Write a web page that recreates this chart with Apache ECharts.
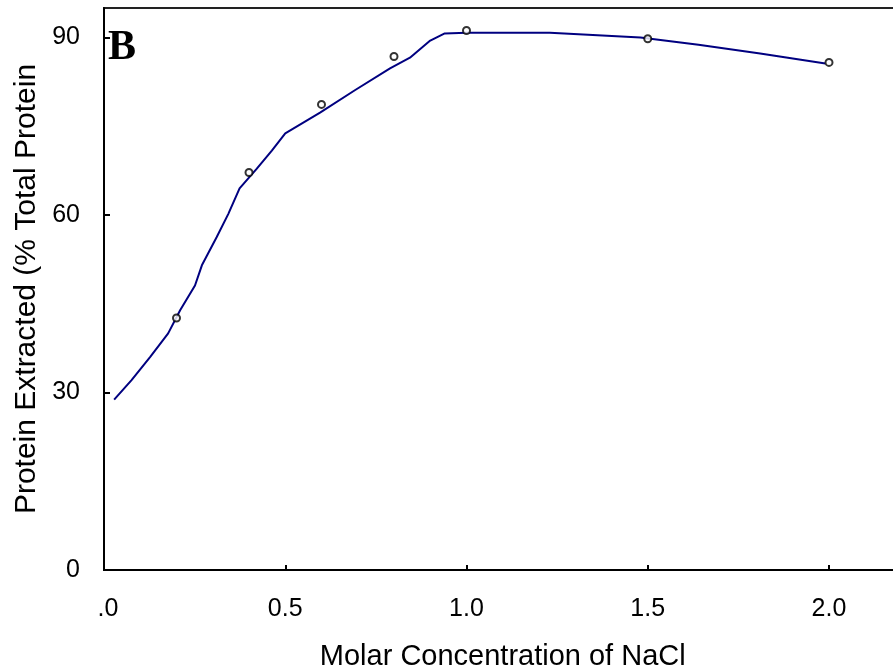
<!DOCTYPE html>
<html>
<head>
<meta charset="utf-8">
<script src="https://cdn.jsdelivr.net/npm/echarts@6/dist/echarts.min.js"></script>
<style>html,body{margin:0;padding:0;background:#fff;overflow:hidden}#c{width:893px;height:670px}</style>
</head>
<body>
<div id="c"></div>
<script>
// Measured points (open circles)
var pointX = [0.2, 0.4, 0.6, 0.8, 1.0, 1.5, 2.0];
var pointY = [42.6, 67.2, 78.7, 86.8, 91.2, 89.8, 85.8];
// Fitted curve
var curveX = [0.028, 0.076, 0.127, 0.177, 0.21, 0.251, 0.27, 0.311, 0.343, 0.374, 0.421, 0.463, 0.5, 0.596, 0.692, 0.789, 0.844, 0.9, 0.94, 1.0, 1.23, 1.48, 1.64, 1.81, 1.99];
var curveY = [28.8, 32.1, 36.0, 40.0, 43.9, 48.1, 51.5, 56.3, 60.2, 64.5, 67.8, 70.9, 73.8, 77.3, 81.1, 84.8, 86.6, 89.5, 90.7, 90.8, 90.8, 90.0, 88.8, 87.3, 85.6];
// Tick values and labels
var xTicks = [0, 0.5, 1.0, 1.5, 2.0];
var xTickLabels = ['.0', '0.5', '1.0', '1.5', '2.0'];
var yTicks = [0, 30, 60, 90];
var yTickLabels = ['0', '30', '60', '90'];
var xName = 'Molar Concentration of NaCl';
var yName = 'Protein Extracted (% Total Protein';
var panelLabel = 'B';

var chart = echarts.init(document.getElementById('c'));
var FONT = '"Liberation Sans", Arial, sans-serif';
chart.setOption({
  animation: false,
  backgroundColor: '#fff',
  title: {
    text: panelLabel, left: 103, top: 22,
    textStyle: { fontFamily: '"Liberation Serif", "Times New Roman", serif', fontWeight: 'bold', fontSize: 42, color: '#000' }
  },
  grid: { left: 104, top: 8, width: 797.5, bottom: 100, outerBoundsMode: 'none', containLabel: false, show: true, borderColor: '#222', borderWidth: 2, backgroundColor: 'transparent' },
  xAxis: {
    type: 'value', min: 0, max: 2.2,
    name: xName, nameLocation: 'middle', nameGap: 72,
    nameTextStyle: { fontFamily: FONT, fontSize: 29, color: '#000' },
    axisLine: { show: true, lineStyle: { color: '#000', width: 2 } },
    axisTick: { show: true, inside: true, length: 5, lineStyle: { color: '#000', width: 2 }, customValues: xTicks },
    axisLabel: {
      customValues: xTicks, margin: 27, fontFamily: FONT, fontSize: 25, color: '#000',
      formatter: function (v) { var i = xTicks.indexOf(v); return i === 0 ? '{s|' + xTickLabels[i] + '}' : (i >= 0 ? xTickLabels[i] : ''); },
      rich: { s: { fontFamily: FONT, fontSize: 25, color: '#000', padding: [0, 0, 0, 8] } }
    },
    splitLine: { show: false }
  },
  yAxis: {
    type: 'value', min: 0, max: 95,
    name: yName, nameLocation: 'middle', nameGap: 57,
    nameTextStyle: { fontFamily: FONT, fontSize: 30, color: '#000' },
    axisLine: { show: true, lineStyle: { color: '#000', width: 2 } },
    axisTick: { show: true, inside: true, length: 6, lineStyle: { color: '#000', width: 2 }, customValues: yTicks },
    axisLabel: {
      customValues: yTicks, margin: 24, fontFamily: FONT, fontSize: 25, color: '#000',
      formatter: function (v) { var i = yTicks.indexOf(v); return i >= 0 ? yTickLabels[i] : ''; }
    },
    splitLine: { show: false }
  },
  series: [
    {
      type: 'line', data: curveX.map(function (x, i) { return [x, curveY[i]]; }),
      showSymbol: false, smooth: false, lineStyle: { color: '#000080', width: 2 }, z: 2
    },
    {
      type: 'scatter', data: pointX.map(function (x, i) { return [x, pointY[i]]; }),
      symbol: 'emptyCircle', symbolSize: 7,
      itemStyle: { color: '#000', borderColor: '#000', borderWidth: 2 }, z: 3
    }
  ]
});
</script>
</body>
</html>
